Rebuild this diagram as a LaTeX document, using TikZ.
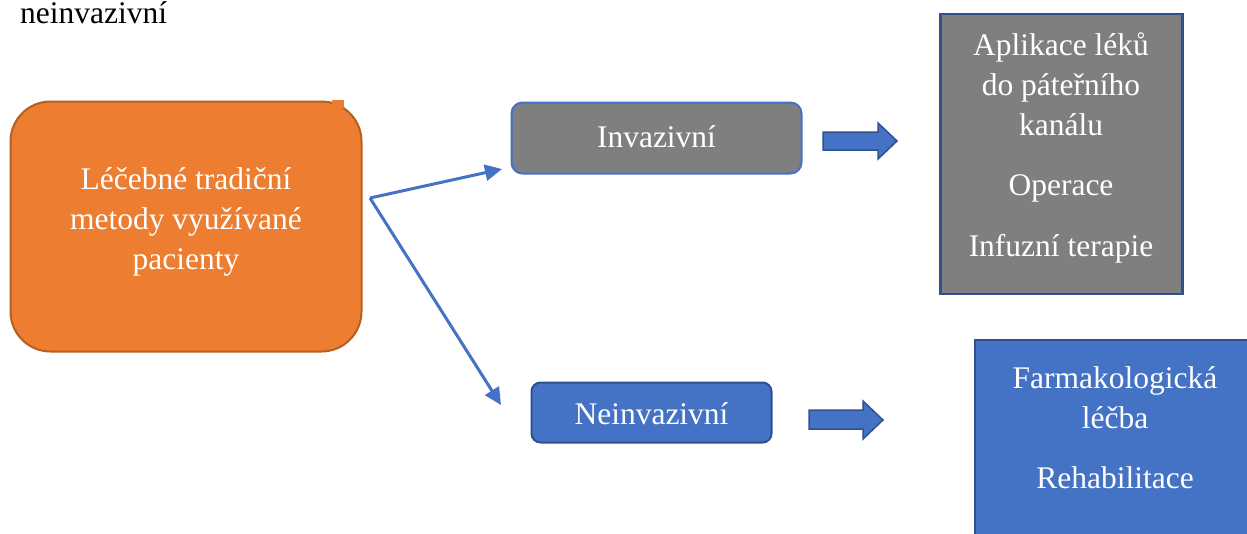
\documentclass[tikz,border=0pt]{standalone}
\usepackage{fontspec}
\setmainfont{Liberation Serif}
\usetikzlibrary{arrows.meta}
\definecolor{orng}{HTML}{ED7D31}
\definecolor{orngdark}{HTML}{B5601F}
\definecolor{grayfill}{HTML}{7F7F7F}
\definecolor{accblue}{HTML}{4472C4}
\definecolor{darkblue}{HTML}{2F528F}
\begin{document}
\begin{tikzpicture}[x=1pt,y=-1pt,
  every node/.style={font=\fontsize{31.5}{40}\selectfont, inner sep=0pt},
  srcbox/.style={draw=orngdark, fill=orng, line width=2pt, rounded corners=40pt},
  invbox/.style={draw=accblue, fill=grayfill, line width=2pt, rounded corners=11pt},
  neinbox/.style={draw=darkblue, fill=accblue, line width=2pt, rounded corners=9pt},
  graybox/.style={draw=darkblue, fill=grayfill, line width=2.5pt},
  bluebox/.style={draw=darkblue, fill=accblue, line width=2.5pt},
  wtext/.style={text=white, anchor=base},
  conn/.style={draw=accblue, line width=3pt, -{Triangle[length=17pt,width=16pt]}},
  blockarrow/.style={fill=accblue, draw=darkblue, line width=1.5pt, line join=miter}
]
\useasboundingbox (0,0) rectangle (1247,533);
\clip (0,0) rectangle (1247,533);
\fill[white] (0,0) rectangle (1247,533);

% top-left text
\node[anchor=base west] (title) at (20,23) {neinvazivní};

% source box
\node[srcbox, minimum width=351pt, minimum height=250pt] (src) at (186,226.5) {};
\fill[orng] (332,100) rectangle (344,108);
\node[wtext] (s1) at (186,189) {Léčebné tradiční};
\node[wtext] (s2) at (186,229) {metody využívané};
\node[wtext] (s3) at (186,269) {pacienty};

% middle boxes
\node[invbox, minimum width=290pt, minimum height=71pt] (inv) at (656.5,138) {};
\node[wtext] (invt) at (656.5,147) {Invazivní};
\node[neinbox, minimum width=240pt, minimum height=60pt] (nein) at (651.5,412.5) {};
\node[wtext] (neint) at (651.5,424) {Neinvazivní};

% connectors
\coordinate (split) at (370,198);
\coordinate (invin) at (502,169);
\coordinate (neinin) at (501,405);
\draw[conn] (split) -- (invin);
\draw[conn] (split) -- (neinin);

% block arrows
\draw[blockarrow] (823,132) -- (878,132) -- (878,123) -- (897,141) -- (878,159) -- (878,150) -- (823,150) -- cycle;
\draw[blockarrow] (809,410) -- (863,410) -- (863,401) -- (883,420) -- (863,439) -- (863,429) -- (809,429) -- cycle;

% right boxes
\node[graybox, minimum width=242pt, minimum height=280pt] (invlist) at (1061.5,154) {};
\node[wtext] (a1) at (1061,55) {Aplikace léků};
\node[wtext] (a2) at (1061,95) {do páteřního};
\node[wtext] (a3) at (1061,135) {kanálu};
\node[wtext] (a4) at (1061,195) {Operace};
\node[wtext] (a5) at (1061,256) {Infuzní terapie};

\node[bluebox, minimum width=290pt, minimum height=210pt] (neinlist) at (1120,445) {};
\node[wtext] (b1) at (1115,388) {Farmakologická};
\node[wtext] (b2) at (1115,428) {léčba};
\node[wtext] (b3) at (1115,488) {Rehabilitace};
\end{tikzpicture}
\end{document}
